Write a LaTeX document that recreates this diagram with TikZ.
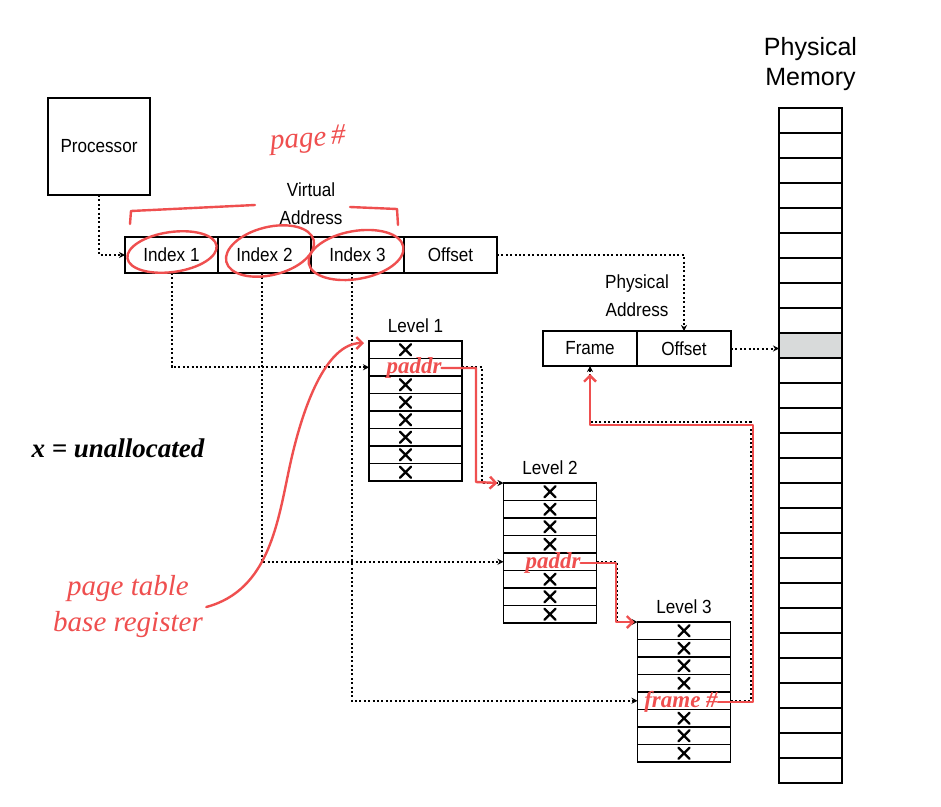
\documentclass[tikz,border=0pt]{standalone}
\usepackage{fontspec}
\setmainfont{Liberation Sans}[FakeStretch=0.9]
\newfontfamily\widefont{Liberation Sans}
\newfontfamily\handfont{Liberation Serif}
\usetikzlibrary{arrows.meta,positioning,calc}
\definecolor{PenRed}{HTML}{EF4F4F}
\definecolor{CellGray}{HTML}{D8DADA}
\newcommand{\unalloc}[2][0]{\draw[xmark] ($(#2)+(#1-5.5,-5.5)$) -- ($(#2)+(#1+5.5,5.5)$) ($(#2)+(#1+5.5,-5.5)$) -- ($(#2)+(#1-5.5,5.5)$);}

\begin{document}
\begin{tikzpicture}[x=1pt, y=-1pt,
  font=\fontsize{19}{22}\selectfont,
  cell/.style={draw, line width=1.6pt, outer sep=0pt, inner sep=0pt, minimum width=93pt, minimum height=36pt},
  entry/.style={draw, line width=1.5pt, outer sep=0pt, inner sep=0pt, minimum width=93pt, minimum height=17.5pt},
  slot/.style={draw, line width=1.4pt, outer sep=0pt, inner sep=0pt, minimum width=63pt, minimum height=25pt},
  link/.style={line width=2pt, dash pattern=on 2pt off 2.4pt, -{Stealth[length=6pt,width=6pt]}},
  pen/.style={draw=PenRed, line width=2.4pt, line cap=round, line join=round},
  penarr/.style={pen, -{Straight Barb[length=6pt,width=12pt]}},
  hand/.style={font=\handfont\itshape\fontsize{29}{36}\selectfont, text=PenRed},
  handsmall/.style={font=\handfont\itshape\bfseries\fontsize{23}{24}\selectfont, text=PenRed, inner sep=0pt},
  xmark/.style={line width=2.2pt, line cap=round}
]
\useasboundingbox (0,0) rectangle (941,806);
\fill[white] (0,0) rectangle (941,806);

% processor and virtual address
\node[cell, minimum width=102pt, minimum height=97pt] (proc) at (99,146.5) {Processor};
\foreach \name/\txt [count=\k] in {i1/Index 1,i2/Index 2,i3/Index 3,voff/Offset}
  \node[cell] (\name) at ({78.5+93*\k},255) {\txt};
\node[align=center, font=\fontsize{19}{28}\selectfont] (valabel) at (311,204) {Virtual\\Address};

% physical address
\node[cell, minimum width=94pt, minimum height=35pt] (frame) at (590,348.5) {Frame};
\node[cell, minimum width=94pt, minimum height=35pt, right=0pt of frame] (poff) {Offset};
\node[align=center, font=\fontsize{19}{28}\selectfont] (palabel) at (637,296) {Physical\\Address};

% page tables
\foreach \r in {1,...,8} {
  \node[entry] (L1-\r) at (415.5,{341+17.5*(\r-0.5)}) {};
  \node[entry] (L2-\r) at (550,{483+17.5*(\r-0.5)}) {};
  \node[entry] (L3-\r) at (684,{622+17.5*(\r-0.5)}) {};
}
\node[above=5pt of L1-1] (lev1) {Level 1};
\node[above=5pt of L2-1] (lev2) {Level 2};
\node[above=5pt of L3-1] (lev3) {Level 3};

% physical memory
\foreach \r in {1,...,27}
  \node[slot] (mem-\r) at (810.5,{108+25*(\r-0.5)}) {};
\node[slot, fill=CellGray] (memhit) at (mem-10) {};
\draw[line width=1.9pt] (mem-1.north west) rectangle (mem-27.south east);
\node[above=14pt of mem-1, align=center, font=\widefont\fontsize{25}{30}\selectfont] (memlabel) {Physical\\Memory};

% dotted connectors
\coordinate (turn1) at (482,483);
\coordinate (turn2) at (617,622);
\coordinate (turn3) at (751,422);
\draw[link] (proc.south) |- (i1.west);
\draw[link] (i1.south) |- (L1-2.west);
\draw[link] ([xshift=-3pt]i2.south) |- (L2-5.west);
\draw[link] ([xshift=-6pt]i3.south) |- (L3-5.west);
\draw[link] (voff.east) -| (poff.north);
\draw[link] (poff.east) -- (poff.east -| memhit.west);
\draw[link] (L1-2.east) -| (turn1) -- (L2-1.north west);
\draw[link] (L2-5.east) -| (turn2) -- (L3-1.north west);
\draw[link] (L3-5.east) -| (turn3) -| (frame.south);

% unallocated entries
\foreach \r in {1,3,4,5,6,7,8} {\unalloc[-10]{L1-\r}}
\foreach \t in {2,3} {
  \foreach \r in {1,2,3,4,6,7,8} {\unalloc{L\t-\r}}
}
\node[font=\handfont\itshape\bfseries\fontsize{27}{30}\selectfont] (legend) at (118,448) {x = unallocated};

% red pen notes
\node[hand, rotate=4] (pagenum) at (308,140) {page\,\#};
\draw[pen] (130,224) -- (131,211) -- (255,205);
\draw[pen] (350,207) -- (397,209) -- (398,225);
\draw[pen] (172,252) ellipse [x radius=45pt, y radius=20pt, rotate=8];
\draw[pen] (270,251) ellipse [x radius=45pt, y radius=24pt, rotate=14];
\draw[pen] (356,255) ellipse [x radius=48pt, y radius=24pt, rotate=10];
\node[handsmall] (paddr1) at (414,368) {paddr};
\node[handsmall] (paddr2) at (553,563) {paddr};
\node[handsmall] (framenum) at (681,702) {frame \#};
\draw[penarr] (paddr1.east) -| (476,482) -- ($(L2-1.north west)+(-6,0)$);
\draw[penarr] (paddr2.east) -| (616,622) -- ($(L3-1.north west)+(-3,0)$);
\draw[penarr] (framenum.east) -| (753,425) -| ($(frame.south)+(0,8)$);
\node[hand, align=center] (ptbr) at (128,607) {page table\\base register};
\draw[penarr] (ptbr.east) .. controls (270,590) and (278,520) .. (290,465)
  .. controls (302,410) and (325,343) .. ($(L1-1.north west)+(-5,2)$);
\end{tikzpicture}
\end{document}
